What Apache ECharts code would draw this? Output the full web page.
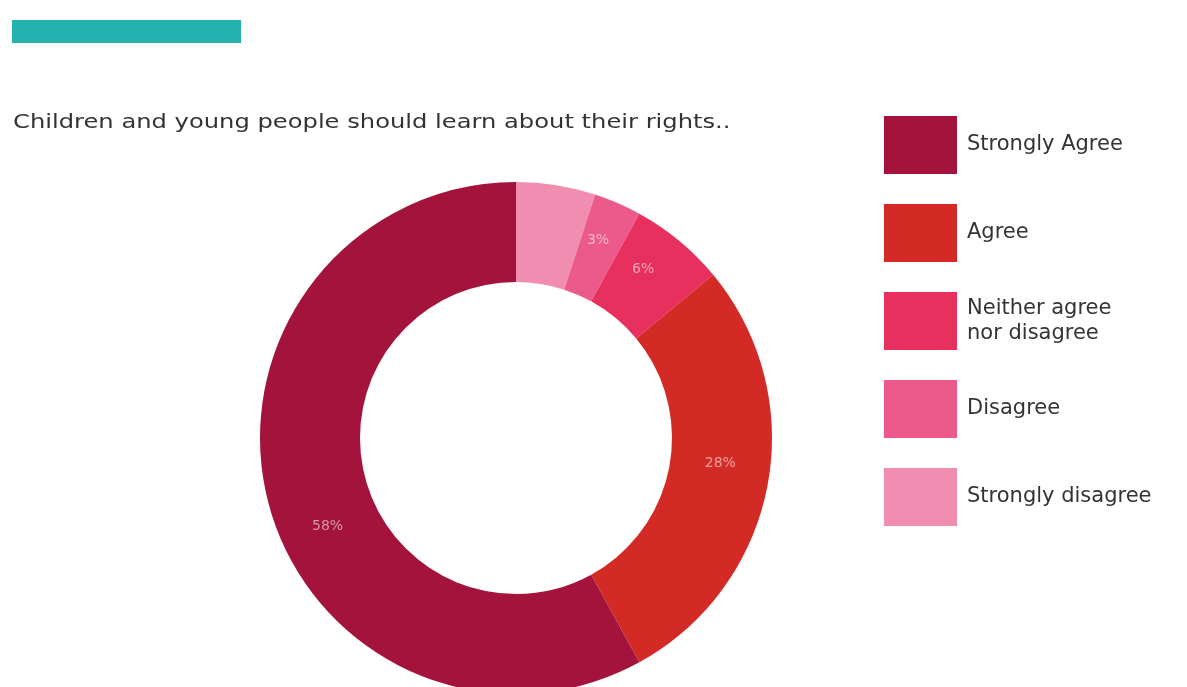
<!DOCTYPE html>
<html>
<head>
<meta charset="utf-8">
<script src="https://cdn.jsdelivr.net/npm/echarts@6/dist/echarts.min.js"></script>
<style>
  html, body { margin: 0; padding: 0; background: #ffffff; }
  #chart { width: 1187px; height: 687px; }
</style>
</head>
<body>
<div id="chart"></div>
<script>
// Survey responses, in the order they run clockwise from 12 o'clock
const categories = ['Strongly disagree', 'Disagree', 'Neither agree nor disagree', 'Agree', 'Strongly Agree'];
const values = [5, 3, 6, 28, 58];
const colors = ['#f08db0', '#ec5a8c', '#e8305e', '#d42a25', '#a3133b'];
// Legend reads from strongest agreement down
const legendOrder = ['Strongly Agree', 'Agree', 'Neither agree nor disagree', 'Disagree', 'Strongly disagree'];
// Slices whose percentage is printed on the ring
const labelled = [false, true, true, true, true];
// Small nudges for the printed percentages
const labelOffsets = [[0, 0], [-1, -6], [-6, -8], [-1, -14], [14, 36]];

const question = 'Children and young people should learn about their rights..';

const chart = echarts.init(document.getElementById('chart'), null, { renderer: 'canvas' });

const fontFamily = '"DejaVu Sans", "Open Sans", sans-serif';

chart.setOption({
  animation: false,
  backgroundColor: '#ffffff',
  graphic: [
    {
      type: 'rect',
      left: 12, top: 20,
      shape: { width: 229, height: 23 },
      style: { fill: '#22b3af' }
    },
    {
      // question heading, set in a wide face
      type: 'text',
      x: 13, y: 113,
      scaleX: 1.21,
      style: {
        text: question,
        fill: '#333333',
        font: '20px ' + fontFamily,
        verticalAlign: 'top'
      }
    }
  ],
  legend: {
    orient: 'vertical',
    left: 884,
    top: 116,
    padding: 0,
    itemWidth: 73,
    itemHeight: 58,
    itemGap: 30,
    icon: 'rect',
    data: legendOrder,
    selectedMode: false,
    formatter: function (name) {
      return name === 'Neither agree nor disagree' ? 'Neither agree\nnor disagree' : name;
    },
    textStyle: {
      color: '#333333',
      fontSize: 21,
      fontFamily: fontFamily,
      lineHeight: 25,
      padding: [3, 0, 0, 5]
    }
  },
  series: [
    {
      type: 'pie',
      center: [516, 438],
      radius: [156, 256],
      startAngle: 90,
      clockwise: true,
      avoidLabelOverlap: false,
      silent: true,
      label: {
        position: 'inside',
        formatter: '{c}%',
        color: 'rgba(255,255,255,0.55)',
        fontSize: 14,
        fontFamily: fontFamily
      },
      labelLine: { show: false },
      data: categories.map(function (name, i) {
        return {
          name: name,
          value: values[i],
          itemStyle: { color: colors[i] },
          label: { show: labelled[i], offset: labelOffsets[i] }
        };
      })
    }
  ]
});
</script>
</body>
</html>
